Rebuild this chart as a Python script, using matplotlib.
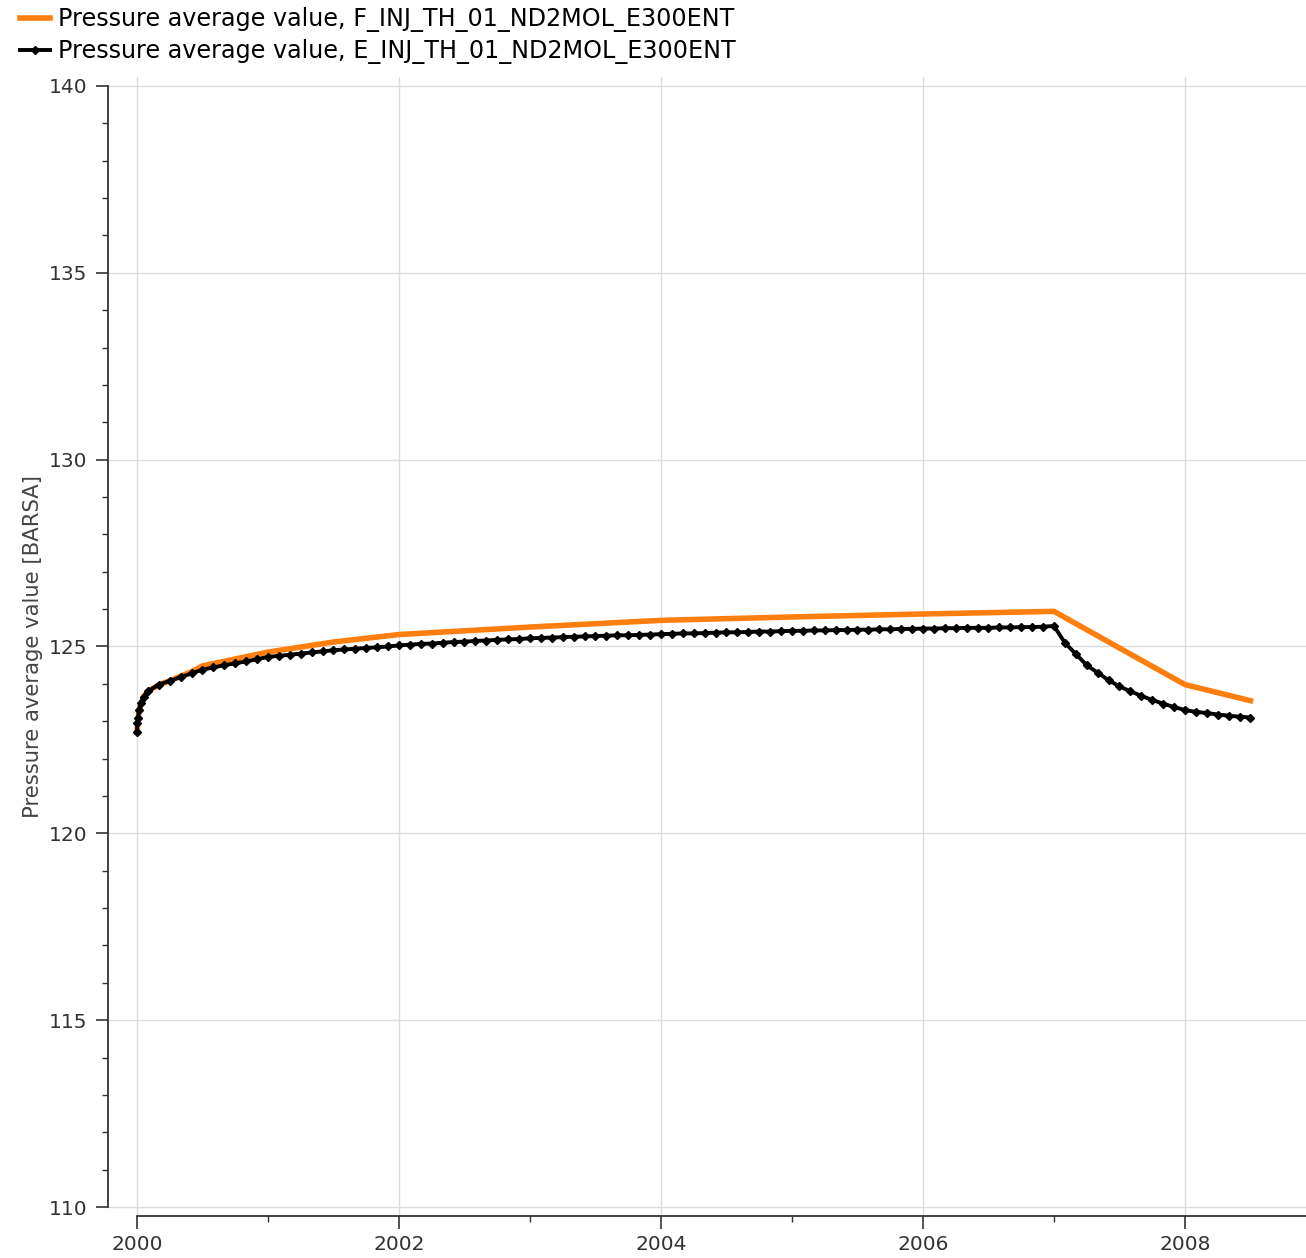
import numpy as np
import matplotlib
matplotlib.use('Agg')
import matplotlib.pyplot as plt

# F case: coarse report steps (decimal years, bar)
f_time = [2000.0, 2000.016, 2000.05, 2000.083, 2000.17, 2000.25, 2000.33, 2000.42, 2000.5,
          2001.0, 2001.5, 2002.0, 2003.0, 2004.0, 2005.0, 2006.0, 2007.0,
          2008.0, 2008.5]
f_pres = [122.7, 123.3, 123.65, 123.8, 123.98, 124.08, 124.2, 124.33, 124.48,
          124.85, 125.12, 125.32, 125.52, 125.7, 125.79, 125.87, 125.94,
          123.98, 123.55]

# E case: first days, then monthly reports
e_time_start = [2000.0, 2000.003, 2000.008, 2000.016, 2000.03, 2000.05]
e_pres_start = [122.7, 122.95, 123.1, 123.3, 123.5, 123.65]
e_pres_monthly = [
    123.8, 123.98, 124.08, 124.18, 124.28, 124.38, 124.44, 124.5, 124.55, 124.6, 124.66, 124.72,
    124.75, 124.78, 124.81, 124.84, 124.87, 124.9, 124.92, 124.94, 124.96, 124.98, 125.0, 125.03,
    125.05, 125.07, 125.08, 125.1, 125.12, 125.13, 125.15, 125.16, 125.18, 125.19, 125.2, 125.22,
    125.23, 125.24, 125.25, 125.26, 125.27, 125.28, 125.29, 125.3, 125.3, 125.31, 125.32, 125.33,
    125.34, 125.35, 125.35, 125.36, 125.37, 125.38, 125.38, 125.39, 125.4, 125.4, 125.41, 125.42,
    125.42, 125.43, 125.43, 125.44, 125.44, 125.45, 125.45, 125.46, 125.46, 125.47, 125.47, 125.48,
    125.48, 125.49, 125.49, 125.5, 125.5, 125.5, 125.51, 125.51, 125.52, 125.52, 125.53, 125.55,
    125.1, 124.8, 124.5, 124.3, 124.1, 123.93, 123.8, 123.68, 123.57, 123.47, 123.38, 123.3,
    123.25, 123.22, 123.18, 123.15, 123.12, 123.1,
]
e_time = e_time_start + list(2000 + np.arange(1, len(e_pres_monthly) + 1) / 12)
e_pres = e_pres_start + e_pres_monthly

label_f = "Pressure average value, F_INJ_TH_01_ND2MOL_E300ENT"
label_e = "Pressure average value, E_INJ_TH_01_ND2MOL_E300ENT"

W, H = 1306, 1258
fig = plt.figure(figsize=(W / 100, H / 100), dpi=100)
ax = fig.add_axes([108 / W, 1 - 1216 / H, (1306 - 108) / W, (1216 - 77) / H])

ax.plot(f_time, f_pres, color='#ff7f0e', lw=4.0, label=label_f, zorder=3)
ax.plot(e_time, e_pres, color='black', lw=2.8, marker='D', ms=3.8, label=label_e, zorder=4)

ax.set_xlim(1999.779, 2008.924)
ax.set_ylim(109.76, 140.24)
ax.set_xticks([2000, 2002, 2004, 2006, 2008])
ax.set_xticks([2001, 2003, 2005, 2007], minor=True)
ax.set_yticks([110, 115, 120, 125, 130, 135, 140])
ax.set_yticks([v for v in range(110, 141) if v % 5], minor=True)

ax.grid(True, which='major', color='#dcdcdc', lw=1.0)
ax.set_axisbelow(True)
for s in ['top', 'right']:
    ax.spines[s].set_visible(False)
ax.spines['left'].set_bounds(110, 140)
ax.spines['bottom'].set_bounds(2000, 2008.924)
for s in ['left', 'bottom']:
    ax.spines[s].set_color('#333333')
    ax.spines[s].set_linewidth(1.3)

ax.tick_params(which='major', length=9, width=1.2, color='#333333',
               labelsize=14.5, labelcolor='#333333')
ax.tick_params(which='minor', length=4.5, width=1.0, color='#333333')
ax.tick_params(axis='y', pad=6)
ax.tick_params(axis='x', pad=5)

ax.set_ylabel("Pressure average value [BARSA]", fontsize=15.2, color='#444444', labelpad=4)

fig.legend(loc='upper left', bbox_to_anchor=(20 / W, 1 - 7 / H), frameon=False,
           fontsize=17.2, handlelength=1.25, handletextpad=0.35, labelspacing=0.3,
           borderaxespad=0.0, borderpad=0.0)

plt.savefig('out.png', dpi=100)
